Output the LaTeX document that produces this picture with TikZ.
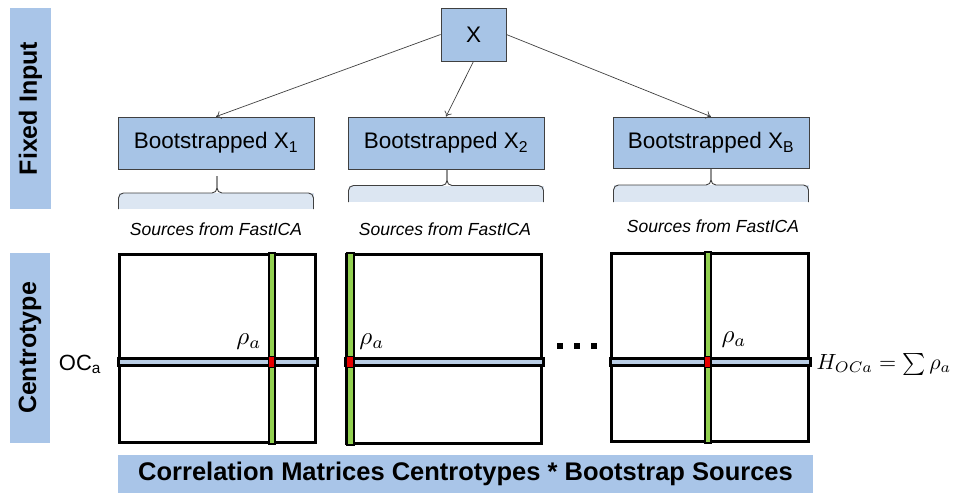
\documentclass[tikz,border=0pt]{standalone}
\usepackage{graphicx}
\usepackage{fontspec}
\setmainfont{Liberation Sans}
\usetikzlibrary{arrows.meta}
\definecolor{boxblue}{HTML}{A7C4E6}
\definecolor{labblue}{HTML}{A9C5E8}
\definecolor{boxline}{HTML}{404040}
\definecolor{bracefill}{HTML}{DCE6F2}
\definecolor{hband}{HTML}{B9CDE5}
\definecolor{vband}{HTML}{92D050}
\definecolor{cellred}{HTML}{E80000}
\begin{document}
\begin{tikzpicture}[x=1pt,y=-1pt,
  sidelab/.style={fill=labblue, rotate=90, inner sep=0pt,
    font=\bfseries\fontsize{25}{30}\selectfont},
  bootbox/.style={draw=boxline, fill=boxblue, line width=0.8pt, inner sep=0pt,
    minimum width=196pt, minimum height=52pt, font=\fontsize{22.5}{27}\selectfont},
  arr/.style={draw=boxline, line width=0.7pt, -{To[length=5pt,width=8pt]}},
  bracepath/.style={draw=boxline, line width=0.9pt, rounded corners=5pt},
  srclab/.style={font=\itshape\fontsize{17.5}{21}\selectfont},
  matbox/.style={draw=black, line width=3pt, inner sep=0pt},
  hbandst/.style={draw=black, fill=hband, line width=3pt},
  vbandst/.style={draw=black, fill=vband, line width=2pt},
  cellst/.style={draw=black, fill=cellred, line width=1.3pt},
  dotsq/.style={fill=black, minimum size=6.5pt, inner sep=0pt}
]
\useasboundingbox (0,0) rectangle (955,493);

% side labels
\node[sidelab, minimum width=201pt, minimum height=41pt] (fixed) at (30.5,108.5) {Fixed Input};
\node[sidelab, minimum width=190pt, minimum height=40pt] (centro) at (30,348) {Centrotype};

% top boxes
\node[bootbox, minimum width=65pt, minimum height=53pt] (X) at (473.5,34.5) {X};
\node[bootbox] (b1) at (216,143) {Bootstrapped X\textsubscript{1}};
\node[bootbox] (b2) at (446,143) {Bootstrapped X\textsubscript{2}};
\node[bootbox, minimum height=51pt] (bB) at (711,142.5) {Bootstrapped X\textsubscript{B}};

\draw[arr] (X.west) -- (b1.north);
\draw[arr] (X.south) -- (b2.north);
\draw[arr] (X.east) -- (bB.north);

% braces
\fill[bracefill] (118.5,193) rectangle (313.5,209);
\draw[bracepath] (118.5,209) -- (118.5,193) -- (217,193) -- (217,176);
\draw[bracepath] (217,176) -- (217,193) -- (313.5,193) -- (313.5,209);

\fill[bracefill] (348.5,185.5) rectangle (543.5,202);
\draw[bracepath] (348.5,202) -- (348.5,185.5) -- (447,185.5) -- (447,169.5);
\draw[bracepath] (447,169.5) -- (447,185.5) -- (543.5,185.5) -- (543.5,202);

\fill[bracefill] (613.5,185) rectangle (808.5,202);
\draw[bracepath] (613.5,202) -- (613.5,185) -- (711,185) -- (711,169);
\draw[bracepath] (711,169) -- (711,185) -- (808.5,185) -- (808.5,202);

\node[srclab] (s1) at (216,229) {Sources from FastICA};
\node[srclab] (s2) at (445,229) {Sources from FastICA};
\node[srclab] (sB) at (713,226) {Sources from FastICA};

% matrices
\node[matbox, minimum width=196pt, minimum height=188pt] (m1) at (217.5,348.5) {};
\node[matbox, minimum width=195pt, minimum height=189pt] (m2) at (444,349) {};
\node[matbox, minimum width=197pt, minimum height=188pt] (m3) at (710,347.5) {};

% matrix 1
\draw[hbandst] (m1.west |- 0,358.5) rectangle (m1.east |- 0,365.5);
\draw[vbandst] (268.5,0 |- m1.north) rectangle (274.5,0 |- m1.south);
\draw[cellst] (268.3,356.8) rectangle (274.7,367.2);
% matrix 2
\draw[hbandst] (m2.west |- 0,358.5) rectangle (m2.east |- 0,365.5);
\draw[vbandst] (346.5,0 |- m2.north) rectangle (353.5,0 |- m2.south);
\draw[cellst] (346.3,356.8) rectangle (353.7,367.2);
% matrix 3
\draw[hbandst] (m3.west |- 0,358.5) rectangle (m3.east |- 0,365.5);
\draw[vbandst] (704.5,0 |- m3.north) rectangle (710.5,0 |- m3.south);
\draw[cellst] (704.3,356.8) rectangle (710.7,367.2);

\node (r1) at (249,342) {\scalebox{2.5}{$\rho_a$}};
\node (r2) at (372,342) {\scalebox{2.5}{$\rho_a$}};
\node (r3) at (734,340) {\scalebox{2.5}{$\rho_a$}};

% dots
\node[dotsq] (d1) at (560,346) {};
\node[dotsq] (d2) at (577,346) {};
\node[dotsq] (d3) at (594,346) {};

\node[font=\fontsize{22}{26}\selectfont] (oc) at (80,364) {OC\textsubscript{a}};
\node (h) at (884,364) {\scalebox{2.2}{$H_{OCa} = \sum \rho_a$}};

% bottom banner
\node[fill=labblue, minimum width=695pt, minimum height=38pt, inner sep=0pt,
  font=\bfseries\fontsize{25.5}{30}\selectfont] (banner) at (465.5,474)
  {Correlation Matrices Centrotypes * Bootstrap Sources};
\end{tikzpicture}
\end{document}
